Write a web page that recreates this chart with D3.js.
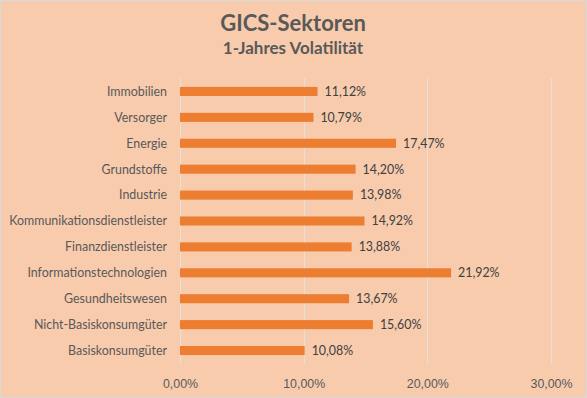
<!DOCTYPE html>
<meta charset="utf-8">
<style>
body { margin: 0; }
svg { font-family: Lato, "Open Sans", sans-serif; display: block; }
.grid line { stroke: #e6e0da; stroke-width: 1; }
.bar { fill: #ED7D31; }
.cat { fill: #595959; font-size: 12.4px; }
.val { fill: #404040; font-size: 12.4px; }
.axis--x text { fill: #595959; font-size: 12.4px; }
.axis--x path, .axis--x line { display: none; }
</style>
<svg width="587" height="398"></svg>
<script src="https://d3js.org/d3.v7.min.js"></script>
<script>

var categories = ["Immobilien", "Versorger", "Energie", "Grundstoffe", "Industrie",
  "Kommunikationsdienstleister", "Finanzdienstleister", "Informationstechnologien",
  "Gesundheitswesen", "Nicht-Basiskonsumgüter", "Basiskonsumgüter"];
var volatility = [11.12, 10.79, 17.47, 14.20, 13.98, 14.92, 13.88, 21.92, 13.67, 15.60, 10.08];
var tickValues = [0, 10, 20, 30];

var svg = d3.select("svg"),
    width = +svg.attr("width"),
    height = +svg.attr("height");

var fmt = function(v) { return d3.format(".2f")(v).replace(".", ",") + "%"; };

svg.append("rect")
    .attr("x", 0.5).attr("y", 0.5)
    .attr("width", width - 1).attr("height", height - 1)
    .attr("fill", "#F8CBAD")
    .attr("stroke", "#D9D9D9");

svg.append("text")
    .attr("x", 293).attr("y", 31)
    .attr("text-anchor", "middle")
    .attr("fill", "#595959")
    .style("font-size", "22px").style("font-weight", "bold")
    .text("GICS-Sektoren");

svg.append("text")
    .attr("x", 293).attr("y", 54)
    .attr("text-anchor", "middle")
    .attr("fill", "#595959")
    .style("font-size", "17px").style("font-weight", "bold")
    .text("1-Jahres Volatilität");

var x = d3.scaleLinear().domain([0, 30]).range([180, 551]);
var y = d3.scaleBand().domain(categories).range([78.5, 363.5]).paddingInner(0.65).paddingOuter(0.325);

svg.append("g")
    .attr("class", "grid")
  .selectAll("line")
  .data(tickValues)
  .enter().append("line")
    .attr("x1", function(d) { return Math.round(x(d)) + 0.5; })
    .attr("x2", function(d) { return Math.round(x(d)) + 0.5; })
    .attr("y1", 78).attr("y2", 364);

svg.append("g")
    .attr("class", "axis axis--x")
    .attr("transform", "translate(0,376)")
    .call(d3.axisBottom(x).tickValues(tickValues).tickSize(0).tickFormat(fmt));

svg.selectAll(".bar")
  .data(categories)
  .enter().append("rect")
    .attr("class", "bar")
    .attr("x", x(0))
    .attr("y", function(d) { return y(d); })
    .attr("width", function(d, i) { return x(volatility[i]) - x(0); })
    .attr("height", y.bandwidth());

svg.selectAll(".cat")
  .data(categories)
  .enter().append("text")
    .attr("class", "cat")
    .attr("x", 167)
    .attr("y", function(d) { return y(d) + y.bandwidth() / 2; })
    .attr("dy", "0.35em")
    .attr("text-anchor", "end")
    .text(function(d) { return d; });

svg.selectAll(".val")
  .data(categories)
  .enter().append("text")
    .attr("class", "val")
    .attr("x", function(d, i) { return x(volatility[i]) + 7; })
    .attr("y", function(d) { return y(d) + y.bandwidth() / 2; })
    .attr("dy", "0.35em")
    .text(function(d, i) { return fmt(volatility[i]); });

</script>
